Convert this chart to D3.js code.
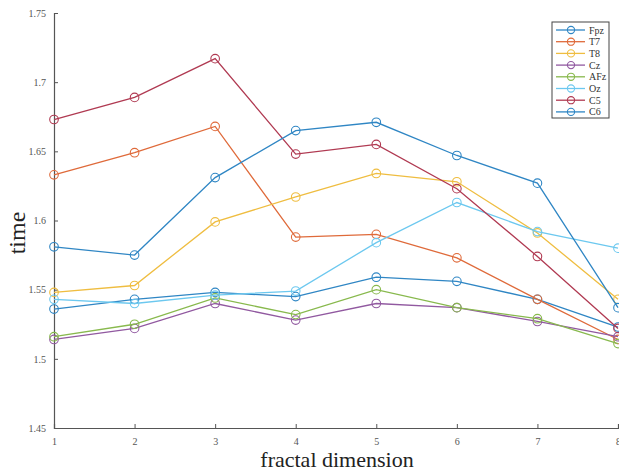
<!DOCTYPE html>
<html>
<head>
<meta charset="utf-8">
<script src="https://cdn.jsdelivr.net/npm/d3@7"></script>
<style>
  body { margin: 0; background: #fff; }
  svg { display: block; font-family: "Liberation Serif", "Times New Roman", serif; }
</style>
</head>
<body>
<div class="chart"></div>
<script>
var svgWidth = 619;
var svgHeight = 472;

// data
var dims = [1, 2, 3, 4, 5, 6, 7, 8];
var channels = ["Fpz", "T7", "T8", "Cz", "AFz", "Oz", "C5", "C6"];
var colors = ["#2f86c4", "#df6a3a", "#efbd40", "#9159a0", "#88b94d", "#6cc8ef", "#b03a52", "#2f86c4"];

var fpz = [1.536, 1.543, 1.548, 1.545, 1.559, 1.556, 1.543, 1.523];
var t7  = [1.633, 1.649, 1.668, 1.588, 1.590, 1.573, 1.543, 1.514];
var t8  = [1.548, 1.553, 1.599, 1.617, 1.634, 1.628, 1.591, 1.543];
var cz  = [1.514, 1.522, 1.540, 1.528, 1.540, 1.537, 1.527, 1.516];
var afz = [1.516, 1.525, 1.544, 1.532, 1.550, 1.537, 1.529, 1.511];
var oz  = [1.543, 1.540, 1.546, 1.549, 1.584, 1.613, 1.592, 1.580];
var c5  = [1.673, 1.689, 1.717, 1.648, 1.655, 1.623, 1.574, 1.522];
var c6  = [1.581, 1.575, 1.631, 1.665, 1.671, 1.647, 1.627, 1.537];
var series = [fpz, t7, t8, cz, afz, oz, c5, c6];

var yTicks = [1.45, 1.5, 1.55, 1.6, 1.65, 1.7, 1.75];

var svg = d3.select(".chart")
  .append("svg")
  .attr("width", svgWidth)
  .attr("height", svgHeight);

var x = d3.scaleLinear().domain([1, 8]).range([54, 618]);
var y = d3.scaleLinear().domain([1.45, 1.75]).range([428, 13]);

// axes, ticks pointing inward like matlab
var xAxis = svg.append("g")
  .attr("transform", "translate(0," + y(1.45) + ")")
  .call(d3.axisBottom(x).tickValues(dims).tickSize(-4).tickPadding(10).tickFormat(d3.format("d")));

var yAxis = svg.append("g")
  .attr("transform", "translate(" + x(1) + ",0)")
  .call(d3.axisLeft(y).tickValues(yTicks).tickSize(-4).tickPadding(8).tickFormat(d3.format("~g")));

[xAxis, yAxis].forEach(function(ax) {
  ax.select(".domain").attr("stroke", "#555").attr("stroke-width", 1.2);
  ax.selectAll(".tick line").attr("stroke", "#555");
  ax.selectAll(".tick text")
    .attr("fill", "#555")
    .style("font-family", "'Liberation Serif', serif")
    .style("font-size", "10px");
});

var line = d3.line()
  .x(function(d, i) { return x(dims[i]); })
  .y(function(d) { return y(d); });

var groups = svg.selectAll(".series")
  .data(series)
  .enter().append("g")
  .attr("class", "series");

groups.append("path")
  .attr("d", line)
  .attr("fill", "none")
  .attr("stroke", function(d, i) { return colors[i]; })
  .attr("stroke-width", 1.3);

groups.selectAll("circle")
  .data(function(d, i) { return d.map(function(v, j) { return {v: v, j: j, c: colors[i]}; }); })
  .enter().append("circle")
  .attr("cx", function(d) { return x(dims[d.j]); })
  .attr("cy", function(d) { return y(d.v); })
  .attr("r", 4.3)
  .attr("fill", "none")
  .attr("stroke", function(d) { return d.c; })
  .attr("stroke-width", 1.1);

// axis titles
svg.append("text")
  .attr("x", 337)
  .attr("y", 467)
  .attr("text-anchor", "middle")
  .style("font-size", "22px")
  .attr("fill", "#222")
  .text("fractal dimension");

svg.append("text")
  .attr("transform", "translate(25," + 233 + ") rotate(-90)")
  .attr("text-anchor", "middle")
  .style("font-size", "24px")
  .attr("fill", "#222")
  .text("time");

// legend
var legend = svg.append("g").attr("transform", "translate(552,22)");
legend.append("rect")
  .attr("width", 57)
  .attr("height", 96)
  .attr("fill", "#fff")
  .attr("stroke", "#444")
  .attr("stroke-width", 1);

var rows = legend.selectAll(".row")
  .data(channels)
  .enter().append("g")
  .attr("transform", function(d, i) { return "translate(0," + (8 + i * 11.7) + ")"; });

rows.append("line")
  .attr("x1", 4).attr("x2", 33)
  .attr("stroke", function(d, i) { return colors[i]; })
  .attr("stroke-width", 1.3);

rows.append("circle")
  .attr("cx", 19).attr("r", 3.6)
  .attr("fill", "none")
  .attr("stroke", function(d, i) { return colors[i]; })
  .attr("stroke-width", 1.1);

rows.append("text")
  .attr("x", 37)
  .attr("dy", "0.35em")
  .style("font-size", "10px")
  .attr("fill", "#333")
  .text(function(d) { return d; });
</script>
</body>
</html>
